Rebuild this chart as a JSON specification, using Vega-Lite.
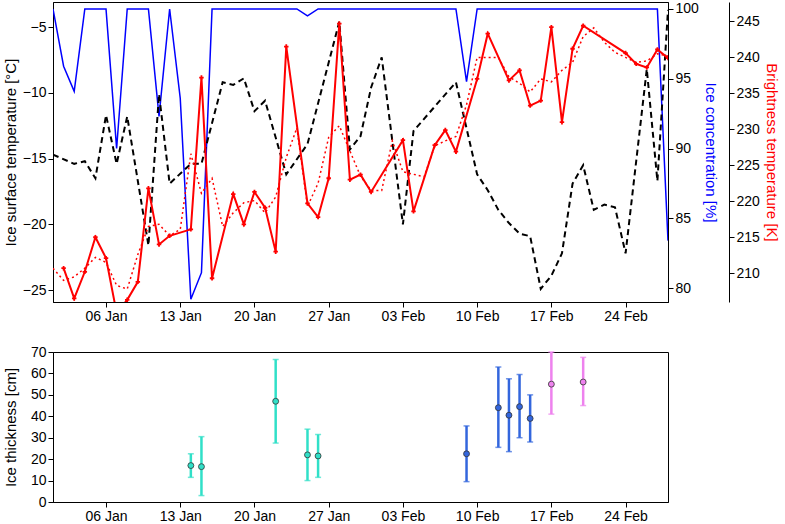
{
"$schema":"https://vega.github.io/schema/vega-lite/v6.json",
"padding":{"left":2,"top":1,"right":5,"bottom":0},
"config":{"font":"Liberation Sans","view":{"stroke":"black","strokeWidth":1},
 "axis":{"grid":false,"labelFontSize":14,"titleFontSize":15,"titleFontWeight":"normal","labelColor":"black","domainColor":"black","tickColor":"black","tickSize":5,"labelOverlap":false,"labelFont":"Liberation Sans","titleFont":"Liberation Sans"}},
"datasets":{
"conc":[{"d":"2016-01-01T00:00","v":100},{"d":"2016-01-02T00:00","v":95.9},{"d":"2016-01-03T00:00","v":94.1},{"d":"2016-01-04T00:00","v":100},{"d":"2016-01-06T00:00","v":100},{"d":"2016-01-07T00:00","v":90},{"d":"2016-01-08T00:00","v":100},{"d":"2016-01-10T00:00","v":100},{"d":"2016-01-11T00:00","v":92.3},{"d":"2016-01-12T00:00","v":100},{"d":"2016-01-13T00:00","v":93.6},{"d":"2016-01-14T00:00","v":79.2},{"d":"2016-01-15T00:00","v":81.1},{"d":"2016-01-16T00:00","v":100},{"d":"2016-01-24T00:00","v":100},{"d":"2016-01-25T00:00","v":99.5},{"d":"2016-01-26T00:00","v":100},{"d":"2016-02-08T00:00","v":100},{"d":"2016-02-09T00:00","v":94.8},{"d":"2016-02-10T00:00","v":100},{"d":"2016-02-27T00:00","v":100},{"d":"2016-02-28T00:00","v":83.4}],
"ist":[{"d":"2016-01-01T00:00","v":-14.7},{"d":"2016-01-03T00:00","v":-15.4},{"d":"2016-01-04T00:00","v":-15.2},{"d":"2016-01-05T00:00","v":-16.5},{"d":"2016-01-06T00:00","v":-11.7},{"d":"2016-01-07T00:00","v":-15.4},{"d":"2016-01-08T00:00","v":-11.8},{"d":"2016-01-10T00:00","v":-21.6},{"d":"2016-01-11T00:00","v":-10.1},{"d":"2016-01-12T00:00","v":-16.9},{"d":"2016-01-14T00:00","v":-15.4},{"d":"2016-01-15T00:00","v":-15.4},{"d":"2016-01-17T00:00","v":-9.2},{"d":"2016-01-18T00:00","v":-9.4},{"d":"2016-01-19T00:00","v":-8.9},{"d":"2016-01-20T00:00","v":-11.4},{"d":"2016-01-21T00:00","v":-10.6},{"d":"2016-01-23T00:00","v":-16.2},{"d":"2016-01-25T00:00","v":-13.9},{"d":"2016-01-28T00:00","v":-4.6},{"d":"2016-01-29T00:00","v":-14.3},{"d":"2016-01-30T00:00","v":-13.3},{"d":"2016-01-31T00:00","v":-9.6},{"d":"2016-02-01T00:00","v":-7.3},{"d":"2016-02-03T00:00","v":-20},{"d":"2016-02-04T00:00","v":-12.9},{"d":"2016-02-08T00:00","v":-9.2},{"d":"2016-02-10T00:00","v":-16.2},{"d":"2016-02-11T00:00","v":-17.4},{"d":"2016-02-12T00:00","v":-18.9},{"d":"2016-02-13T00:00","v":-19.9},{"d":"2016-02-14T00:00","v":-20.7},{"d":"2016-02-15T00:00","v":-20.9},{"d":"2016-02-16T00:00","v":-24.9},{"d":"2016-02-17T00:00","v":-23.9},{"d":"2016-02-18T00:00","v":-22.2},{"d":"2016-02-19T00:00","v":-16.9},{"d":"2016-02-20T00:00","v":-15.5},{"d":"2016-02-21T00:00","v":-18.9},{"d":"2016-02-22T00:00","v":-18.5},{"d":"2016-02-23T00:00","v":-18.7},{"d":"2016-02-24T00:00","v":-22.2},{"d":"2016-02-26T00:00","v":-8.2},{"d":"2016-02-27T00:00","v":-16.7},{"d":"2016-02-28T00:00","v":-3.7}],
"tb":[{"d":"2016-01-02T00:00","v":210.7},{"d":"2016-01-03T00:00","v":206.5},{"d":"2016-01-04T00:00","v":210.2},{"d":"2016-01-05T00:00","v":215.0},{"d":"2016-01-06T00:00","v":212.1},{"d":"2016-01-07T00:00","v":204.5},{"d":"2016-01-08T00:00","v":206.3},{"d":"2016-01-09T00:00","v":208.8},{"d":"2016-01-10T00:00","v":221.8},{"d":"2016-01-11T00:00","v":214.0},{"d":"2016-01-12T00:00","v":215.2},{"d":"2016-01-14T00:00","v":216.1},{"d":"2016-01-15T00:00","v":237.2},{"d":"2016-01-16T00:00","v":209.3},{"d":"2016-01-18T00:00","v":221.0},{"d":"2016-01-19T00:00","v":216.8},{"d":"2016-01-20T00:00","v":221.3},{"d":"2016-01-21T00:00","v":219.1},{"d":"2016-01-22T00:00","v":213.0},{"d":"2016-01-23T00:00","v":241.5},{"d":"2016-01-25T00:00","v":219.7},{"d":"2016-01-26T00:00","v":217.8},{"d":"2016-01-27T00:00","v":223.2},{"d":"2016-01-28T00:00","v":244.7},{"d":"2016-01-29T00:00","v":223.0},{"d":"2016-01-30T00:00","v":223.7},{"d":"2016-01-31T00:00","v":221.3},{"d":"2016-02-03T00:00","v":228.5},{"d":"2016-02-04T00:00","v":218.6},{"d":"2016-02-06T00:00","v":227.8},{"d":"2016-02-07T00:00","v":229.9},{"d":"2016-02-08T00:00","v":226.9},{"d":"2016-02-10T00:00","v":237.0},{"d":"2016-02-11T00:00","v":243.3},{"d":"2016-02-13T00:00","v":236.8},{"d":"2016-02-14T00:00","v":238.2},{"d":"2016-02-15T00:00","v":233.3},{"d":"2016-02-16T00:00","v":234.0},{"d":"2016-02-17T00:00","v":244.2},{"d":"2016-02-18T00:00","v":231.0},{"d":"2016-02-19T00:00","v":241.2},{"d":"2016-02-20T00:00","v":244.4},{"d":"2016-02-24T00:00","v":240.6},{"d":"2016-02-25T00:00","v":239.1},{"d":"2016-02-26T00:00","v":238.6},{"d":"2016-02-27T00:00","v":241.1},{"d":"2016-02-28T00:00","v":239.9}],
"tbs":[{"d":"2016-01-01T00:00","v":210.7},{"d":"2016-01-02T00:00","v":209.0},{"d":"2016-01-03T00:00","v":209.5},{"d":"2016-01-04T00:00","v":210.7},{"d":"2016-01-05T00:00","v":212.2},{"d":"2016-01-06T00:00","v":211.5},{"d":"2016-01-07T00:00","v":208.3},{"d":"2016-01-08T00:00","v":207.8},{"d":"2016-01-09T00:00","v":212.6},{"d":"2016-01-10T00:00","v":216.5},{"d":"2016-01-11T00:00","v":216.8},{"d":"2016-01-12T00:00","v":215.2},{"d":"2016-01-13T00:00","v":216.1},{"d":"2016-01-14T00:00","v":226.6},{"d":"2016-01-15T00:00","v":221.1},{"d":"2016-01-16T00:00","v":223.2},{"d":"2016-01-17T00:00","v":216.5},{"d":"2016-01-18T00:00","v":218.4},{"d":"2016-01-19T00:00","v":219.8},{"d":"2016-01-20T00:00","v":220.1},{"d":"2016-01-21T00:00","v":218.4},{"d":"2016-01-22T00:00","v":220.6},{"d":"2016-01-23T00:00","v":226.1},{"d":"2016-01-24T00:00","v":230.2},{"d":"2016-01-25T00:00","v":219.3},{"d":"2016-01-26T00:00","v":222.5},{"d":"2016-01-27T00:00","v":228.9},{"d":"2016-01-28T00:00","v":230.5},{"d":"2016-01-29T00:00","v":227.0},{"d":"2016-01-30T00:00","v":223.5},{"d":"2016-01-31T00:00","v":221.5},{"d":"2016-02-01T00:00","v":221.5},{"d":"2016-02-02T00:00","v":228.4},{"d":"2016-02-03T00:00","v":224.1},{"d":"2016-02-05T00:00","v":223.4},{"d":"2016-02-06T00:00","v":227.7},{"d":"2016-02-07T00:00","v":228.4},{"d":"2016-02-08T00:00","v":229.0},{"d":"2016-02-09T00:00","v":233.4},{"d":"2016-02-10T00:00","v":240.0},{"d":"2016-02-11T00:00","v":240.0},{"d":"2016-02-12T00:00","v":240.0},{"d":"2016-02-13T00:00","v":237.3},{"d":"2016-02-14T00:00","v":236.4},{"d":"2016-02-15T00:00","v":235.2},{"d":"2016-02-16T00:00","v":237.0},{"d":"2016-02-17T00:00","v":236.6},{"d":"2016-02-18T00:00","v":238.2},{"d":"2016-02-19T00:00","v":239.3},{"d":"2016-02-20T00:00","v":242.9},{"d":"2016-02-21T00:00","v":244.1},{"d":"2016-02-22T00:00","v":242.1},{"d":"2016-02-23T00:00","v":240.7},{"d":"2016-02-24T00:00","v":240.0},{"d":"2016-02-25T00:00","v":239.3},{"d":"2016-02-26T00:00","v":239.5},{"d":"2016-02-27T00:00","v":240.5},{"d":"2016-02-28T00:00","v":240.2}],
"thick":[{"d":"2016-01-14T00:00","v":17,"lo":11.5,"hi":22.5,"g":"a"},{"d":"2016-01-15T00:00","v":16.5,"lo":3,"hi":30.5,"g":"a"},{"d":"2016-01-22T00:00","v":47,"lo":27.5,"hi":66.5,"g":"a"},{"d":"2016-01-25T00:00","v":22,"lo":10,"hi":34,"g":"a"},{"d":"2016-01-26T00:00","v":21.5,"lo":11.5,"hi":31.5,"g":"a"},{"d":"2016-02-09T00:00","v":22.5,"lo":9.5,"hi":35.5,"g":"b"},{"d":"2016-02-12T00:00","v":44,"lo":25.5,"hi":63,"g":"b"},{"d":"2016-02-13T00:00","v":40.5,"lo":23.5,"hi":57.5,"g":"b"},{"d":"2016-02-14T00:00","v":44.5,"lo":30,"hi":59.5,"g":"b"},{"d":"2016-02-15T00:00","v":39,"lo":28,"hi":50,"g":"b"},{"d":"2016-02-17T00:00","v":55,"lo":41,"hi":70,"g":"c"},{"d":"2016-02-20T00:00","v":56,"lo":45,"hi":67.5,"g":"c"}]
},
"vconcat":[
{"width":615,"height":300,
 "layer":[
  {"data":{"name":"conc"},"mark":{"type":"line","color":"#0000ff","strokeWidth":1.5,"clip":true},
   "encoding":{"x":{"field":"d","type":"temporal","scale":{"domain":[{"year":2016,"month":1,"date":1},{"year":2016,"month":2,"date":28}]},
     "axis":{"title":null,"format":"%d %b","values":[{"year":2016,"month":1,"date":6},{"year":2016,"month":1,"date":13},{"year":2016,"month":1,"date":20},{"year":2016,"month":1,"date":27},{"year":2016,"month":2,"date":3},{"year":2016,"month":2,"date":10},{"year":2016,"month":2,"date":17},{"year":2016,"month":2,"date":24}]}},
    "y":{"field":"v","type":"quantitative","scale":{"domain":[79,100.5],"nice":false},"axis":{"orient":"right","title":"Ice concentration [%]","titleColor":"#0000ff","values":[80,85,90,95,100]}}}},
  {"data":{"name":"ist"},"mark":{"type":"line","color":"black","strokeWidth":2,"strokeDash":[6,4],"clip":true},
   "encoding":{"x":{"field":"d","type":"temporal"},
    "y":{"field":"v","type":"quantitative","scale":{"domain":[-25.9,-3.1],"nice":false},"axis":{"orient":"left","title":"Ice surface temperature [°C]","values":[-25,-20,-15,-10,-5]}}}},
  {"layer":[
   {"data":{"name":"tbs"},"mark":{"type":"line","color":"#ff0000","strokeWidth":1.5,"strokeDash":[2,3],"clip":true},
    "encoding":{"x":{"field":"d","type":"temporal"},
     "y":{"field":"v","type":"quantitative","scale":{"domain":[206,247.7],"nice":false},"axis":{"orient":"right","offset":61,"title":"Brightness temperature [K]","titleColor":"#ff0000","values":[210,215,220,225,230,235,240,245]}}}},
   {"data":{"name":"tb"},"mark":{"type":"line","color":"#ff0000","strokeWidth":2,"clip":true,"point":{"shape":"cross","size":20,"color":"#ff0000"}},
    "encoding":{"x":{"field":"d","type":"temporal"},"y":{"field":"v","type":"quantitative"}}}
  ]}
 ],
 "resolve":{"scale":{"y":"independent"},"axis":{"y":"independent"}}},
{"width":615,"height":150,"data":{"name":"thick"},
 "encoding":{"x":{"field":"d","type":"temporal","scale":{"domain":[{"year":2016,"month":1,"date":1},{"year":2016,"month":2,"date":28}]},
   "axis":{"title":null,"format":"%d %b","values":[{"year":2016,"month":1,"date":6},{"year":2016,"month":1,"date":13},{"year":2016,"month":1,"date":20},{"year":2016,"month":1,"date":27},{"year":2016,"month":2,"date":3},{"year":2016,"month":2,"date":10},{"year":2016,"month":2,"date":17},{"year":2016,"month":2,"date":24}]}},
  "color":{"field":"g","type":"nominal","scale":{"domain":["a","b","c"],"range":["#30e0c8","#3366dd","#ee82ee"]},"legend":null}},
 "layer":[
  {"mark":{"type":"rule","strokeWidth":2.5},"encoding":{"y":{"field":"lo","type":"quantitative","scale":{"domain":[0,70],"nice":false},"axis":{"title":"Ice thickness [cm]","values":[0,10,20,30,40,50,60,70],"labelOverlap":false,"titlePadding":12}},"y2":{"field":"hi"}}},
  {"mark":{"type":"tick","orient":"horizontal","size":6,"thickness":1.5},"encoding":{"y":{"field":"lo","type":"quantitative","axis":{"title":"Ice thickness [cm]","values":[0,10,20,30,40,50,60,70],"labelOverlap":false,"titlePadding":12}}}},
  {"mark":{"type":"tick","orient":"horizontal","size":6,"thickness":1.5},"encoding":{"y":{"field":"hi","type":"quantitative","axis":{"title":"Ice thickness [cm]","values":[0,10,20,30,40,50,60,70],"labelOverlap":false,"titlePadding":12}}}},
  {"mark":{"type":"point","shape":"circle","filled":true,"size":35,"stroke":"#333","strokeWidth":0.8,"opacity":1},"encoding":{"y":{"field":"v","type":"quantitative","axis":{"title":"Ice thickness [cm]","values":[0,10,20,30,40,50,60,70],"labelOverlap":false,"titlePadding":12}}}}
 ]}
],
"spacing":20
}
